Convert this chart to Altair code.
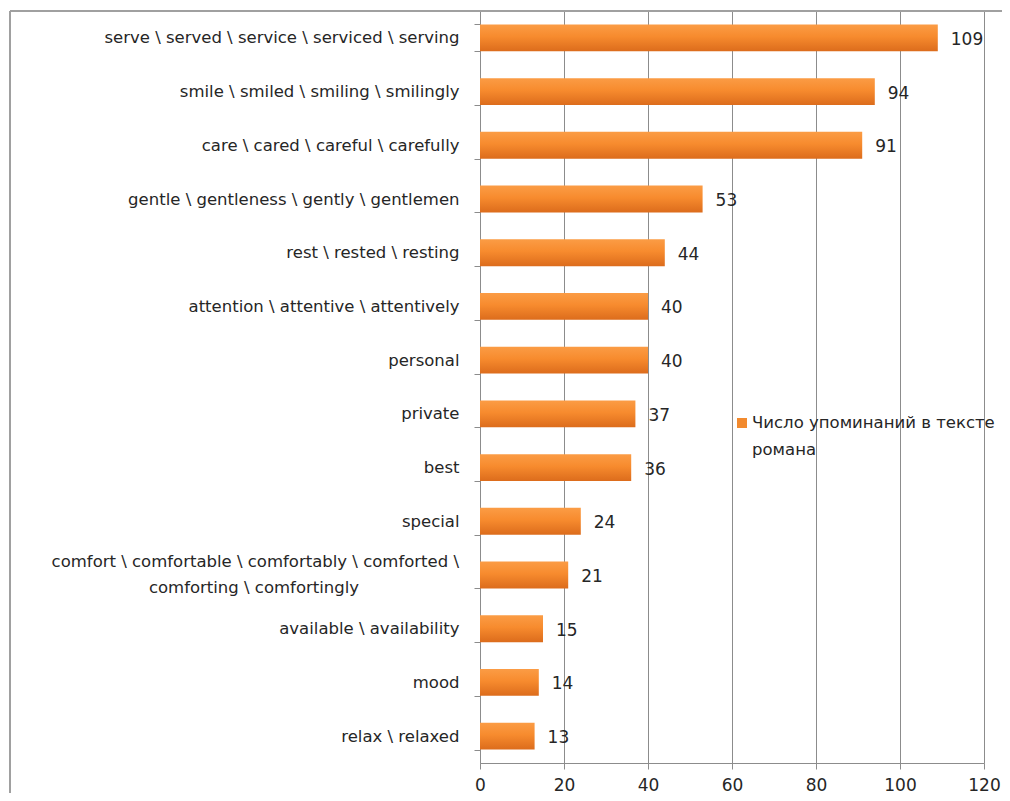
import altair as alt
import pandas as pd

categories = [
    "serve \\ served \\ service \\ serviced \\ serving",
    "smile \\ smiled \\ smiling \\ smilingly",
    "care \\ cared \\ careful \\ carefully",
    "gentle \\ gentleness \\ gently \\ gentlemen",
    "rest \\ rested \\ resting",
    "attention \\ attentive \\ attentively",
    "personal",
    "private",
    "best",
    "special",
    "comfort \\ comfortable \\ comfortably \\ comforted \\|comforting \\ comfortingly",
    "available \\ availability",
    "mood",
    "relax \\ relaxed",
]
counts = [109, 94, 91, 53, 44, 40, 40, 37, 36, 24, 21, 15, 14, 13]
series_name = "Число упоминаний в тексте романа"
legend_lines = ["Число упоминаний в тексте", "романа"]
x_ticks = [0, 20, 40, 60, 80, 100, 120]

df = pd.DataFrame({"word": categories, "count": counts})
legend_df = pd.DataFrame({"name": [series_name]})

FONT = "DejaVu Sans"
TXT = "#262626"
GRID = "#8c8c8c"
W, H = 504, 752
LBL = 16.5

x_enc = alt.X(
    "count:Q",
    scale=alt.Scale(domain=[0, 120], nice=False, zero=True),
    axis=alt.Axis(
        values=x_ticks, title=None, grid=True, gridColor=GRID, gridWidth=1,
        domainColor=GRID, tickColor=GRID, tickSize=6, labelPadding=8,
        labelFontSize=17, labelFont=FONT, labelColor=TXT, labelFlush=False,
    ),
)
y_enc = alt.Y(
    "word:N",
    sort=categories,
    scale=alt.Scale(paddingInner=0.5, paddingOuter=0.25),
    axis=alt.Axis(
        title=None, ticks=True, tickBand="extent", tickSize=6, tickColor=GRID,
        domainColor=GRID, labelPadding=15, labelFontSize=LBL, labelFont=FONT,
        labelColor=TXT, labelLimit=1000,
        labelExpr="indexof(datum.label, '|') >= 0 ? '' : datum.label",
        grid=False,
    ),
)

bar_fill = alt.Gradient(
    gradient="linear",
    x1=0, x2=0, y1=0, y2=1,
    stops=[
        alt.GradientStop(offset=0, color="#fb9c45"),
        alt.GradientStop(offset=0.45, color="#f78b2e"),
        alt.GradientStop(offset=1, color="#dc6c1c"),
    ],
)

bars = alt.Chart(df).mark_bar(color=bar_fill).encode(x=x_enc, y=y_enc)

multi_base = alt.Chart(df).transform_filter(
    "indexof(datum.word, '|') >= 0"
).transform_calculate(
    line1="split(datum.word, '|')[0]",
    line2="split(datum.word, '|')[1]",
)
multi_line1 = multi_base.mark_text(
    align="right", baseline="middle", dy=-13,
    fontSize=LBL, font=FONT, color=TXT,
).encode(
    x=alt.value(-21),
    y=alt.Y("word:N", sort=categories),
    text=alt.Text("line1:N"),
)
multi_line2 = multi_base.mark_text(
    align="center", baseline="middle", dy=13,
    fontSize=LBL, font=FONT, color=TXT,
).encode(
    x=alt.value(-226),
    y=alt.Y("word:N", sort=categories),
    text=alt.Text("line2:N"),
)

values = alt.Chart(df).mark_text(
    align="left", baseline="middle", dx=13, dy=2,
    fontSize=17, font=FONT, color=TXT,
).encode(
    x=alt.X("count:Q"),
    y=alt.Y("word:N", sort=categories),
    text=alt.Text("count:Q"),
)

legend_symbol = alt.Chart(legend_df).mark_square(
    size=100, color="#f28a2e", opacity=1
).encode(x=alt.value(262), y=alt.value(412))

legend_text = alt.Chart(legend_df).mark_text(
    align="left", baseline="middle", fontSize=16.5, font=FONT, color=TXT,
    lineHeight=27,
).encode(x=alt.value(272), y=alt.value(412), text=alt.value(legend_lines))

frame_top = alt.Chart(legend_df).mark_rule(color="#a0a0a0", strokeWidth=2).encode(
    x=alt.value(-470), x2=alt.value(540), y=alt.value(0)
)
frame_left = alt.Chart(legend_df).mark_rule(color="#a0a0a0", strokeWidth=2).encode(
    x=alt.value(-470), y=alt.value(0), y2=alt.value(800)
)

chart = alt.layer(
    bars, multi_line1, multi_line2, values, legend_symbol, legend_text,
    frame_top, frame_left
).properties(
    width=W, height=H,
    autosize=alt.AutoSizeParams(type="none"),
    padding={"left": 472, "top": 3, "right": 18, "bottom": 30},
).configure_view(
    stroke=GRID, strokeWidth=1
).configure(background="white")

chart.save("out.html", embed_options={"renderer": "svg", "actions": False})
